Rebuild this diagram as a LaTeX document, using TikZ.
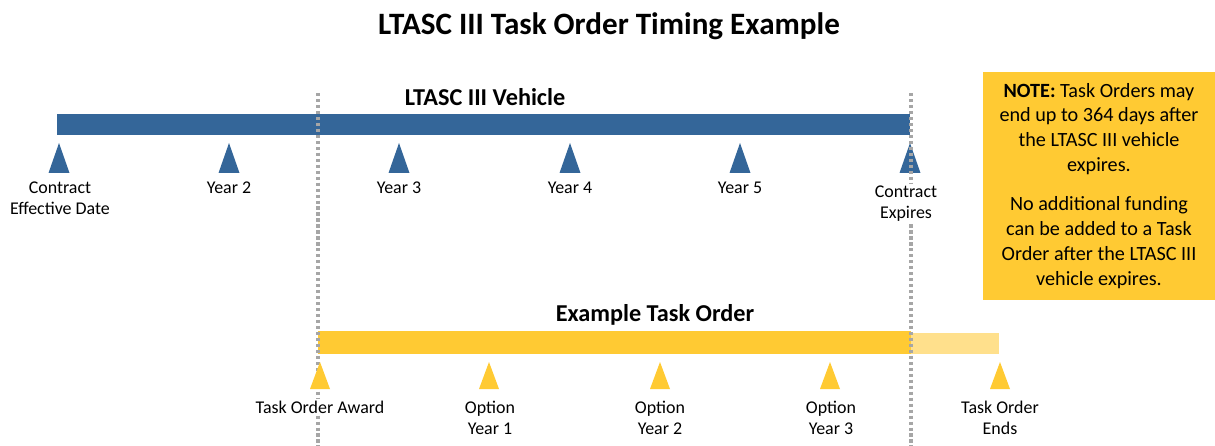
\documentclass[tikz,border=0pt]{standalone}
\usepackage{fontspec}
\setmainfont{Carlito}
\usepackage{xcolor}
\definecolor{vehicle-blue}{RGB}{52,102,153}
\definecolor{order-gold}{RGB}{255,202,51}
\definecolor{order-light}{RGB}{255,224,140}
\definecolor{guide-gray}{RGB}{166,166,166}
\tikzset{
    timeline-label/.style = {fill=white, align=center, anchor=north, inner sep=1pt, font=\fontsize{10.2}{12}\selectfont},
    bar-title/.style = {font=\fontsize{13.8}{16}\selectfont\bfseries},
    guide-line/.style = {draw=guide-gray, line width=2.2pt, dash pattern=on 1.8pt off 1.6pt},
    note-box/.style = {fill=order-gold, align=center, minimum width=4.64cm, minimum height=4.56cm, font=\fontsize{11.5}{14.2}\selectfont},
}

\begin{document}
\begin{tikzpicture}[x=0.02cm, y=-0.02cm]
\useasboundingbox (0,0) rectangle (1215,446);
\node[font=\fontsize{17.7}{21}\selectfont\bfseries] (title) at (609,26) {LTASC III Task Order Timing Example};

% vehicle timeline
\node[bar-title] (vehicle-title) at (485,97) {LTASC III Vehicle};
\fill[vehicle-blue] (57,114) rectangle (910,135);
\foreach \x in {59,229,399,570,740,910}
    \fill[vehicle-blue] (\x-10.5,173) -- (\x,143) -- (\x+10.5,173) -- cycle;

% task order timeline
\node[bar-title] (order-title) at (655,315) {Example Task Order};
\fill[order-gold] (318,331) rectangle (911,354);
\fill[order-light] (911,333) rectangle (999,354);

% guide lines
\coordinate (award-top) at (318,93);
\coordinate (award-bottom) at (318,446);
\coordinate (expire-top) at (911,93);
\coordinate (expire-bottom) at (911,446);
\draw[guide-line] (award-top) -- (award-bottom);
\draw[guide-line] (expire-top) -- (expire-bottom);

\foreach \x in {320,489,660,830,1000}
    \fill[order-gold] (\x-10,389) -- (\x,362) -- (\x+10,389) -- cycle;

% labels
\node[timeline-label] (effective-date) at (60,180) {Contract\\Effective Date};
\node[timeline-label] (year-two) at (229,180) {Year 2};
\node[timeline-label] (year-three) at (399,180) {Year 3};
\node[timeline-label] (year-four) at (570,180) {Year 4};
\node[timeline-label] (year-five) at (740,180) {Year 5};
\node[timeline-label] (contract-expires) at (906,184) {Contract\\Expires};

\node[timeline-label] (order-award) at (320,399) {Task Order Award};
\node[timeline-label] (option-one) at (490,399) {Option\\Year 1};
\node[timeline-label] (option-two) at (660,399) {Option\\Year 2};
\node[timeline-label] (option-three) at (831,399) {Option\\Year 3};
\node[timeline-label] (order-ends) at (1000,399) {Task Order\\Ends};

% note
\node[note-box] (note) at (1099,186) {\textbf{NOTE:} Task Orders may\\end up to 364 days after\\the LTASC III vehicle\\expires.\\[8pt]No additional funding\\can be added to a Task\\Order after the LTASC III\\vehicle expires.};
\end{tikzpicture}
\end{document}
